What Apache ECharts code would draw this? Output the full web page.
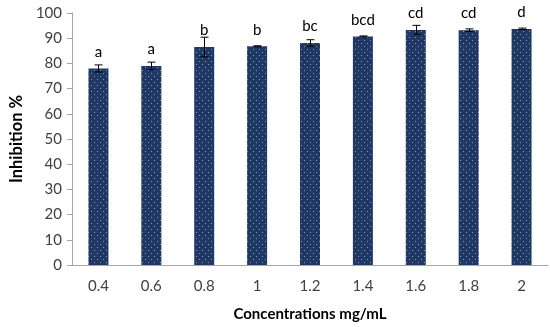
<!DOCTYPE html>
<html>
<head>
<meta charset="utf-8">
<script src="https://cdn.jsdelivr.net/npm/echarts@6/dist/echarts.min.js"></script>
<style>html,body{margin:0;padding:0;background:#fff;}#c{width:550px;height:327px;}</style>
</head>
<body>
<div id="c"></div>
<script>
const categories = ['0.4','0.6','0.8','1','1.2','1.4','1.6','1.8','2'];
const meanValues = [78.0, 79.0, 86.5, 86.8, 88.1, 90.7, 93.3, 93.2, 93.7];
const errorValues = [1.4, 1.5, 3.9, 0.2, 1.3, 0.2, 1.8, 0.5, 0.3];
const groupLetters = ['a','a','b','b','bc','bcd','cd','cd','d'];
const yTicks = [0,10,20,30,40,50,60,70,80,90,100];

// dotted navy pattern
const pc = document.createElement('canvas');
pc.width = 6; pc.height = 6;
const pctx = pc.getContext('2d');
pctx.fillStyle = '#1f3864';
pctx.fillRect(0,0,6,6);
pctx.fillStyle = '#7f92b8';
pctx.fillRect(1,1,1,1);
pctx.fillRect(4,4,1,1);

const chart = echarts.init(document.getElementById('c'), null, {renderer:'canvas'});
const font = 'Lato';
chart.setOption({
  animation:false,
  grid:{left:68, right:2, top:13, bottom:59},
  xAxis:{
    type:'category', data:categories,
    axisLine:{lineStyle:{color:'#a6a6a6', width:1}},
    axisTick:{show:false},
    axisLabel:{color:'#404040', fontFamily:font, fontSize:15, margin:14},
    name:'Concentrations mg/mL', nameLocation:'middle', nameGap:42,
    nameTextStyle:{color:'#000', fontFamily:font, fontWeight:'bold', fontSize:15}
  },
  yAxis:{
    type:'value', min:0, max:100, interval:10,
    axisLine:{show:true, lineStyle:{color:'#a6a6a6', width:1}},
    axisTick:{show:true, length:5, lineStyle:{color:'#a6a6a6'}},
    splitLine:{show:false},
    axisLabel:{color:'#404040', fontFamily:font, fontSize:15, margin:10},
    name:'Inhibition %', nameLocation:'middle', nameGap:45, nameRotate:90,
    nameTextStyle:{color:'#000', fontFamily:font, fontWeight:'bold', fontSize:16.5}
  },
  series:[
    {
      type:'bar', data:meanValues, barWidth:20,
      itemStyle:{color:{image:pc, repeat:'repeat'}},
      label:{show:true, position:'top', distance:9,
        formatter:p=>groupLetters[p.dataIndex],
        color:'#000', fontFamily:font, fontSize:15}
    },
    {
      type:'custom', z:5,
      data:categories.map((c,i)=>[i, meanValues[i]-errorValues[i], meanValues[i]+errorValues[i]]),
      renderItem:function(params, api){
        const lo = api.coord([api.value(0), api.value(1)]);
        const hi = api.coord([api.value(0), api.value(2)]);
        const x = Math.round(lo[0]) + 0.5;
        const hw = 4;
        const st = {stroke:'#000', lineWidth:1};
        return {type:'group', children:[
          {type:'line', shape:{x1:x, y1:lo[1], x2:x, y2:hi[1]}, style:st},
          {type:'line', shape:{x1:x-hw, y1:hi[1], x2:x+hw, y2:hi[1]}, style:st},
          {type:'line', shape:{x1:x-hw, y1:lo[1], x2:x+hw, y2:lo[1]}, style:st}
        ]};
      }
    }
  ]
});
</script>
</body>
</html>
